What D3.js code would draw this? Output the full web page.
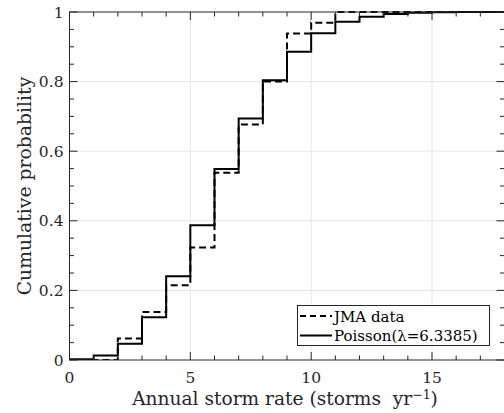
<!DOCTYPE html>
<html><head><meta charset="utf-8">
<script src="https://cdn.jsdelivr.net/npm/d3@7"></script>
<style>body{margin:0;background:#fff}svg{display:block}</style>
</head><body>
<svg id="c" width="504" height="413"></svg>
<script>
// Data
const stepX = [0,1,2,3,4,5,6,7,8,9,10,11,12,13,14,15,16,17,18];
const jmaData = [0,0,0.062,0.138,0.215,0.323,0.538,0.677,0.800,0.938,0.969,1,1,1,1,1,1,1,1];
const poissonData = [0.002,0.013,0.047,0.123,0.241,0.387,0.549,0.694,0.804,0.886,0.939,0.972,0.986,0.994,0.998,0.999,1,1,1];
const xTicks = [0,5,10,15];
const yTicks = [0,0.2,0.4,0.6,0.8,1];
const xMinor = d3.range(0,19,1);
const yMinor = d3.range(0,1.0001,0.05);
const legendLabels = ["JMA data","Poisson(\u03bb=6.3385)"];

const svg = d3.select("#c");
const L=69.5, R=504.5, T=12, B=360;
const x = d3.scaleLinear().domain([0,18]).range([L,R]);
const y = d3.scaleLinear().domain([0,1]).range([B,T]);
const axc = "#262626";
const font = "'DejaVu Serif', serif";

// grid
const g = svg.append("g");
g.selectAll(".gx").data(xTicks.filter(d=>d>0)).join("line")
  .attr("x1",d=>x(d)).attr("x2",d=>x(d)).attr("y1",T).attr("y2",B)
  .attr("stroke","#e6e6e6").attr("stroke-width",1);
g.selectAll(".gy").data(yTicks.filter(d=>d>0&&d<1)).join("line")
  .attr("y1",d=>y(d)).attr("y2",d=>y(d)).attr("x1",L).attr("x2",R)
  .attr("stroke","#e6e6e6").attr("stroke-width",1);

// data lines
const line = d3.line().curve(d3.curveStepAfter).x(d=>x(d[0])).y(d=>y(d[1]));
svg.append("clipPath").attr("id","clp").append("rect")
  .attr("x",L).attr("y",T-2).attr("width",R-L).attr("height",B-T+2);
const dg = svg.append("g").attr("clip-path","url(#clp)");
dg.append("path").datum(stepX.map((d,i)=>[d,jmaData[i]]))
  .attr("d",line).attr("fill","none").attr("stroke","#000").attr("stroke-width",2)
  .attr("stroke-dasharray","7,4");
dg.append("path").datum(stepX.map((d,i)=>[d,poissonData[i]]))
  .attr("d",line).attr("fill","none").attr("stroke","#000").attr("stroke-width",2);

// axes box and ticks
const ax = svg.append("g").attr("stroke",axc).attr("stroke-width",1);
ax.append("rect").attr("x",L).attr("y",T).attr("width",R-L).attr("height",B-T).attr("fill","none");
const isMajX = d=>xTicks.includes(d);
const isMajY = d=>yTicks.some(t=>Math.abs(t-d)<1e-6);
ax.selectAll(".tb").data(xMinor).join("line")
  .attr("x1",d=>x(d)).attr("x2",d=>x(d)).attr("y1",B).attr("y2",d=>B-(isMajX(d)?8:4.5));
ax.selectAll(".tt").data(xMinor).join("line")
  .attr("x1",d=>x(d)).attr("x2",d=>x(d)).attr("y1",T).attr("y2",d=>T+(isMajX(d)?8:4.5));
ax.selectAll(".tl").data(yMinor).join("line")
  .attr("y1",d=>y(d)).attr("y2",d=>y(d)).attr("x1",L).attr("x2",d=>L+(isMajY(d)?8:4.5));
ax.selectAll(".tr").data(yMinor).join("line")
  .attr("y1",d=>y(d)).attr("y2",d=>y(d)).attr("x1",R).attr("x2",d=>R-(isMajY(d)?8:4.5));

// tick labels
const tl = svg.append("g").attr("font-family",font).attr("font-size",15.5).attr("fill",axc);
tl.selectAll(".xl").data(xTicks).join("text")
  .attr("x",d=>x(d)).attr("y",B+23).attr("text-anchor","middle").text(d=>d);
tl.selectAll(".yl").data(yTicks).join("text")
  .attr("x",L-6).attr("y",d=>y(d)+5.5).attr("text-anchor","end").text(d=>d);

// axis labels
const xl = svg.append("text").attr("font-family",font).attr("font-size",18.6).attr("fill",axc)
  .attr("x",285).attr("y",405).attr("text-anchor","middle");
xl.append("tspan").text("Annual storm rate (storms\u00a0\u00a0yr");
xl.append("tspan").attr("font-size",12.5).attr("dy",-6.5).text("\u22121");
xl.append("tspan").attr("dy",6.5).text(")");
svg.append("text").attr("font-family",font).attr("font-size",18.8).attr("fill",axc)
  .attr("transform",`translate(31,186) rotate(-90)`).attr("text-anchor","middle")
  .text("Cumulative probability");

// legend
const lg = svg.append("g");
lg.append("rect").attr("x",297.5).attr("y",305.5).attr("width",192).attr("height",40)
  .attr("fill","#fff").attr("stroke",axc).attr("stroke-width",1);
[0,1].forEach(i=>{
  const yy = 316+i*19.5;
  lg.append("line").attr("x1",300).attr("x2",332).attr("y1",yy).attr("y2",yy)
    .attr("stroke","#000").attr("stroke-width",2).attr("stroke-dasharray",i===0?"6,4":null);
  lg.append("text").attr("x",334).attr("y",yy+5.5).attr("font-family",font).attr("font-size",15)
    .attr("fill","#000").text(legendLabels[i]);
});
</script>
</body></html>
